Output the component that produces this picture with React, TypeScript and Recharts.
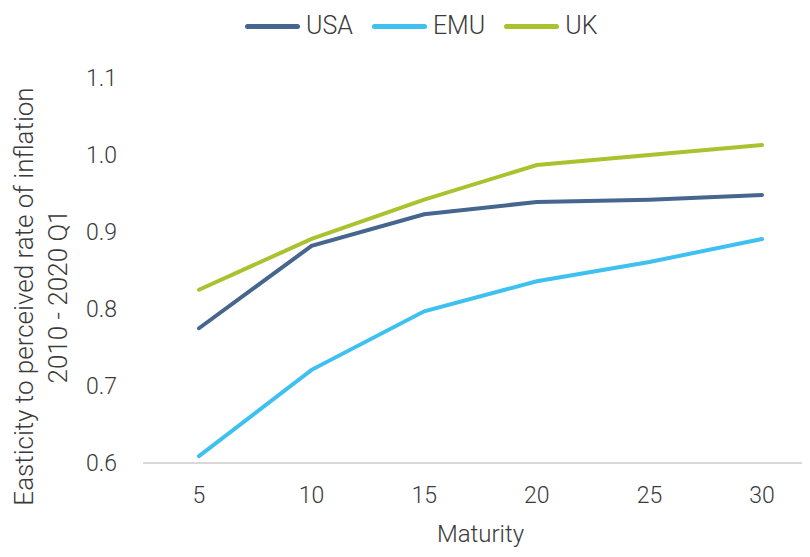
import React from "react";
import { LineChart, Line, XAxis, YAxis, Label } from "recharts";

const maturities = [5, 10, 15, 20, 25, 30];
const usaValues = [0.775, 0.882, 0.923, 0.939, 0.942, 0.948];
const emuValues = [0.609, 0.721, 0.797, 0.836, 0.861, 0.891];
const ukValues = [0.825, 0.891, 0.942, 0.987, 1.0, 1.013];
const yTicks = [0.6, 0.7, 0.8, 0.9, 1.0, 1.1];

const seriesList = [
  { key: "USA", color: "#466690" },
  { key: "EMU", color: "#3ec0f0" },
  { key: "UK", color: "#a9c22e" },
];

const data = maturities.map((m, i) => ({
  m,
  USA: usaValues[i],
  EMU: emuValues[i],
  UK: ukValues[i],
}));

const FONT = "Roboto, 'Open Sans', sans-serif";
const TEXT = "#3a3a3a";

// two-line rotated title for the value axis
const YTitle = (props: any) => {
  const { viewBox } = props;
  const cy = viewBox.y + viewBox.height / 2 + 26;
  const lines = [
    { text: "Easticity to perceived rate of inflation", x: 33 },
    { text: "2010 - 2020 Q1", x: 67 },
  ];
  return (
    <g>
      {lines.map((l) => (
        <text
          key={l.text}
          x={l.x}
          y={cy}
          transform={`rotate(-90, ${l.x}, ${cy})`}
          textAnchor="middle"
          fontSize={26}
          fontWeight={300}
          fontFamily={FONT}
          fill={TEXT}
        >
          {l.text}
        </text>
      ))}
    </g>
  );
};

function LegendRow() {
  return (
    <div
      style={{
        position: "absolute",
        top: 10,
        left: 245,
        display: "flex",
        alignItems: "center",
        fontFamily: FONT,
        fontWeight: 300,
        fontSize: 25,
        color: TEXT,
        lineHeight: "32px",
      }}
    >
      {seriesList.map((s) => (
        <div key={s.key} style={{ display: "flex", alignItems: "center", marginRight: 19 }}>
          <div style={{ width: 55, height: 5, borderRadius: 3, background: s.color, marginRight: 6 }} />
          <span>{s.key}</span>
        </div>
      ))}
    </div>
  );
}

export default function App() {
  return (
    <div style={{ margin: -8, width: 810, height: 557, overflow: "hidden", position: "relative", background: "#fff" }}>
      <LegendRow />
      <LineChart width={818} height={557} data={data} margin={{ top: 78, right: 0, bottom: 0, left: 0 }}>
        <XAxis
          dataKey="m"
          type="category"
          height={94}
          padding={{ left: 56, right: 56 }}
          axisLine={{ stroke: "#d9d9d9", strokeWidth: 2 }}
          tickLine={false}
          tickMargin={18}
          tick={{ fontSize: 23, fontWeight: 300, fontFamily: FONT, fill: TEXT }}
        >
          <Label value="Maturity" position="insideBottom" offset={15} fontSize={24} fontWeight={300} fontFamily={FONT} fill={TEXT} />
        </XAxis>
        <YAxis
          type="number"
          domain={[0.6, 1.1]}
          ticks={yTicks}
          width={143}
          axisLine={false}
          tickLine={false}
          tickMargin={20}
          tickFormatter={(v: number) => v.toFixed(1)}
          tick={{ fontSize: 23, fontWeight: 300, fontFamily: FONT, fill: TEXT }}
        >
          <Label content={<YTitle />} />
        </YAxis>
        {seriesList.map((s) => (
          <Line
            key={s.key}
            dataKey={s.key}
            stroke={s.color}
            strokeWidth={4}
            strokeLinecap="round"
            dot={false}
            type="linear"
            isAnimationActive={false}
          />
        ))}
      </LineChart>
    </div>
  );
}
